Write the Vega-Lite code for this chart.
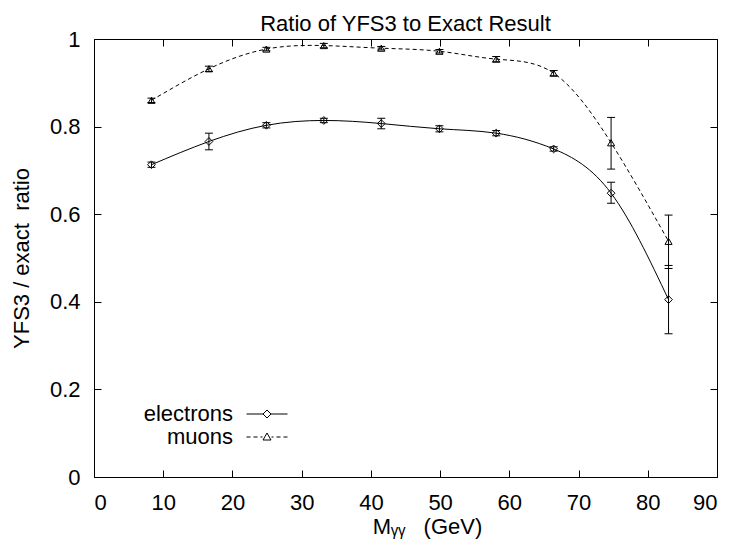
{
  "$schema": "https://vega.github.io/schema/vega-lite/v6.json",
  "autosize": {"type": "none"},
  "width": 623,
  "height": 438,
  "padding": {"left": 94, "top": 39, "right": 13, "bottom": 65},
  "background": "white",
  "config": {
    "view": {"stroke": "black", "strokeWidth": 1},
    "font": "Liberation Sans",
    "axis": {"grid": false, "domain": false, "tickColor": "black", "tickSize": -7, "tickWidth": 1, "labelFont": "Liberation Sans", "labelFontSize": 22, "labelColor": "black", "titleFont": "Liberation Sans", "titleFontSize": 22, "titleFontWeight": "normal", "titleColor": "black"},
    "legend": {"orient": "none", "legendX": 162, "legendY": 364, "title": null, "symbolSize": 400, "symbolStrokeWidth": 1, "symbolStrokeColor": "black", "symbolFillColor": "transparent", "symbolOpacity": 1, "labelFont": "Liberation Sans", "labelFontSize": 22, "labelColor": "black", "labelAlign": "right", "labelBaseline": "middle", "labelOffset": -45, "rowPadding": 1, "padding": 0}
  },
  "title": {"text": "Ratio of YFS3 to Exact Result", "font": "Liberation Sans", "fontSize": 22, "fontWeight": "normal", "color": "black", "offset": -8},
  "data": {
    "values": [
      {"series": "electrons", "x": 8.3, "y": 0.713, "lo": 0.707, "hi": 0.719},
      {"series": "electrons", "x": 16.6, "y": 0.766, "lo": 0.747, "hi": 0.785},
      {"series": "electrons", "x": 24.9, "y": 0.803, "lo": 0.797, "hi": 0.809},
      {"series": "electrons", "x": 33.2, "y": 0.814, "lo": 0.809, "hi": 0.819},
      {"series": "electrons", "x": 41.5, "y": 0.807, "lo": 0.795, "hi": 0.819},
      {"series": "electrons", "x": 49.9, "y": 0.795, "lo": 0.788, "hi": 0.802},
      {"series": "electrons", "x": 58.1, "y": 0.785, "lo": 0.779, "hi": 0.791},
      {"series": "electrons", "x": 66.4, "y": 0.749, "lo": 0.744, "hi": 0.754},
      {"series": "electrons", "x": 74.7, "y": 0.648, "lo": 0.625, "hi": 0.673},
      {"series": "electrons", "x": 83.0, "y": 0.405, "lo": 0.327, "hi": 0.483},
      {"series": "muons", "x": 8.3, "y": 0.860, "lo": 0.855, "hi": 0.865},
      {"series": "muons", "x": 16.6, "y": 0.932, "lo": 0.926, "hi": 0.938},
      {"series": "muons", "x": 24.9, "y": 0.977, "lo": 0.973, "hi": 0.981},
      {"series": "muons", "x": 33.2, "y": 0.985, "lo": 0.980, "hi": 0.990},
      {"series": "muons", "x": 41.5, "y": 0.979, "lo": 0.975, "hi": 0.983},
      {"series": "muons", "x": 49.9, "y": 0.972, "lo": 0.968, "hi": 0.976},
      {"series": "muons", "x": 58.1, "y": 0.954, "lo": 0.948, "hi": 0.960},
      {"series": "muons", "x": 66.4, "y": 0.922, "lo": 0.916, "hi": 0.928},
      {"series": "muons", "x": 74.7, "y": 0.763, "lo": 0.703, "hi": 0.821},
      {"series": "muons", "x": 83.0, "y": 0.538, "lo": 0.476, "hi": 0.598}
    ]
  },
  "layer": [
    {
      "transform": [{"filter": {"field": "series", "equal": "electrons"}}],
      "mark": {"type": "line", "interpolate": "natural", "color": "black", "strokeWidth": 1},
      "encoding": {
        "x": {"field": "x", "type": "quantitative", "scale": {"domain": [0, 90], "nice": false, "zero": false},
              "axis": {"values": [0, 10, 20, 30, 40, 50, 60, 70, 80, 90], "labelPadding": 22, "title": "Mᵧᵧ\u00a0\u00a0\u00a0(GeV)", "titleX": 333, "titleY": 56, "titleBaseline": "alphabetic"}},
        "y": {"field": "y", "type": "quantitative", "scale": {"domain": [0, 1], "nice": false},
              "axis": {"values": [0, 0.2, 0.4, 0.6, 0.8, 1], "format": "~g", "labelPadding": 21, "title": "YFS3 / exact\u00a0\u00a0ratio", "titleX": -73, "titleY": 219, "titleAngle": -90, "titleBaseline": "middle", "titleAlign": "center"}}
      }
    },
    {
      "transform": [{"filter": {"field": "series", "equal": "muons"}}],
      "mark": {"type": "line", "interpolate": "natural", "color": "black", "strokeWidth": 1, "strokeDash": [4, 3]},
      "encoding": {
        "x": {"field": "x", "type": "quantitative", "axis": null},
        "y": {"field": "y", "type": "quantitative", "axis": null}
      }
    },
    {
      "mark": {"type": "rule", "color": "black", "strokeWidth": 1},
      "encoding": {
        "x": {"field": "x", "type": "quantitative", "axis": {"orient": "top", "values": [0, 10, 20, 30, 40, 50, 60, 70, 80, 90], "labels": false, "title": null}},
        "y": {"field": "lo", "type": "quantitative", "axis": {"orient": "right", "values": [0, 0.2, 0.4, 0.6, 0.8, 1], "labels": false, "title": null}},
        "y2": {"field": "hi"}
      }
    },
    {
      "mark": {"type": "tick", "orient": "horizontal", "color": "black", "size": 8, "thickness": 1, "opacity": 1},
      "encoding": {
        "x": {"field": "x", "type": "quantitative", "axis": null},
        "y": {"field": "lo", "type": "quantitative", "axis": null}
      }
    },
    {
      "mark": {"type": "tick", "orient": "horizontal", "color": "black", "size": 8, "thickness": 1, "opacity": 1},
      "encoding": {
        "x": {"field": "x", "type": "quantitative", "axis": null},
        "y": {"field": "hi", "type": "quantitative", "axis": null}
      }
    },
    {
      "transform": [{"filter": {"field": "series", "equal": "electrons"}}],
      "mark": {"type": "point", "shape": "diamond", "filled": false, "color": "black", "strokeWidth": 1, "size": 60, "opacity": 1},
      "encoding": {
        "x": {"field": "x", "type": "quantitative", "axis": null},
        "y": {"field": "y", "type": "quantitative", "axis": null}
      }
    },
    {
      "transform": [{"filter": {"field": "series", "equal": "muons"}}],
      "mark": {"type": "point", "shape": "triangle-up", "filled": false, "color": "black", "strokeWidth": 1, "size": 50, "opacity": 1},
      "encoding": {
        "x": {"field": "x", "type": "quantitative", "axis": null},
        "y": {"field": "y", "type": "quantitative", "axis": null}
      }
    },
    {
      "transform": [{"filter": "false"}],
      "mark": {"type": "point", "filled": false, "color": "black", "strokeWidth": 1, "opacity": 1},
      "encoding": {
        "x": {"field": "x", "type": "quantitative", "axis": null},
        "y": {"field": "y", "type": "quantitative", "axis": null},
        "shape": {"field": "series", "type": "nominal",
          "scale": {"domain": ["electrons", "muons"], "range": ["M-2.05,0H-0.4M0.4,0H2.05M0,-0.4L0.4,0L0,0.4L-0.4,0Z", "M-2.05,0H-1.65M-1.35,0H-0.95M-0.65,0H-0.45M0.45,0H0.65M0.95,0H1.35M1.65,0H2.05M-0.4,0.3L0.4,0.3L0,-0.4Z"]}}
      }
    }
  ],
  "resolve": {"axis": {"x": "independent", "y": "independent"}}
}
